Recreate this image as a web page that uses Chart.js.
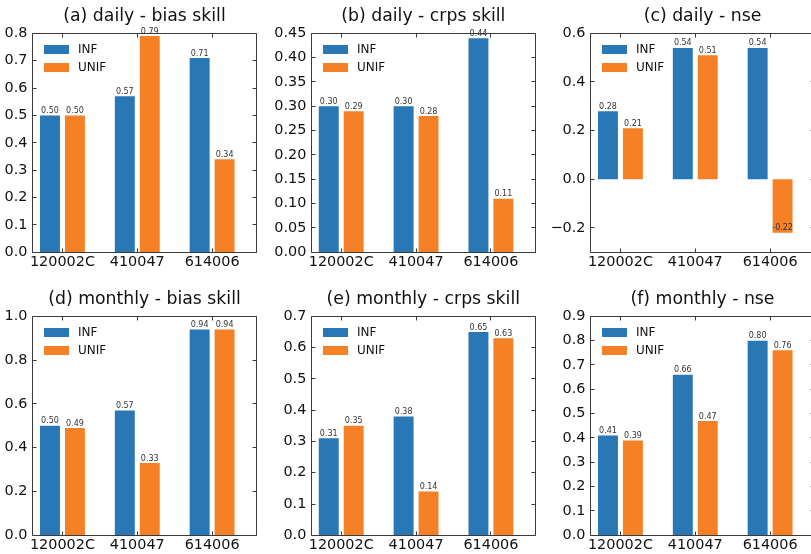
<!DOCTYPE html>
<html>
<head>
<meta charset="utf-8">
<script src="https://cdn.jsdelivr.net/npm/chart.js@4.4.1/dist/chart.umd.min.js"></script>
<style>
  html, body { margin: 0; padding: 0; background: #fff; overflow: hidden; width: 811px; height: 554px; }
  canvas { position: absolute; }
</style>
</head>
<body>
<script>
// Gauging stations and the two ensemble schemes
const categories = ['120002C', '410047', '614006'];
const seriesNames = ['INF', 'UNIF'];

// (a) daily - bias skill
const dailyBiasInf  = [0.50, 0.57, 0.71];
const dailyBiasUnif = [0.50, 0.79, 0.34];
const dailyBiasTicks = ['0.0', '0.1', '0.2', '0.3', '0.4', '0.5', '0.6', '0.7', '0.8'];

// (b) daily - crps skill
const dailyCrpsInf  = [0.30, 0.30, 0.44];
const dailyCrpsUnif = [0.29, 0.28, 0.11];
const dailyCrpsTicks = ['0.00', '0.05', '0.10', '0.15', '0.20', '0.25', '0.30', '0.35', '0.40', '0.45'];

// (c) daily - nse
const dailyNseInf  = [0.28, 0.54, 0.54];
const dailyNseUnif = [0.21, 0.51, -0.22];
const dailyNseTicks = ['−0.2', '0.0', '0.2', '0.4', '0.6'];

// (d) monthly - bias skill
const monthlyBiasInf  = [0.50, 0.57, 0.94];
const monthlyBiasUnif = [0.49, 0.33, 0.94];
const monthlyBiasTicks = ['0.0', '0.2', '0.4', '0.6', '0.8', '1.0'];

// (e) monthly - crps skill
const monthlyCrpsInf  = [0.31, 0.38, 0.65];
const monthlyCrpsUnif = [0.35, 0.14, 0.63];
const monthlyCrpsTicks = ['0.0', '0.1', '0.2', '0.3', '0.4', '0.5', '0.6', '0.7'];

// (f) monthly - nse
const monthlyNseInf  = [0.41, 0.66, 0.80];
const monthlyNseUnif = [0.39, 0.47, 0.76];
const monthlyNseTicks = ['0.0', '0.1', '0.2', '0.3', '0.4', '0.5', '0.6', '0.7', '0.8', '0.9'];

const COLORS = ['#2977b4', '#f58025'];
const FONT = 'DejaVu Sans';
Chart.defaults.font.family = FONT;

// Each panel: title, data, y range and its plot-area rectangle on the page
const panels = [
  { title: '(a) daily - bias skill',   inf: dailyBiasInf,   unif: dailyBiasUnif,   ticks: dailyBiasTicks,   y: [0, 0.8],    area: [32.5, 33.3, 256.5, 252.3] },
  { title: '(b) daily - crps skill',   inf: dailyCrpsInf,   unif: dailyCrpsUnif,   ticks: dailyCrpsTicks,   y: [0, 0.45],   area: [311.3, 33.3, 535.3, 252.3] },
  { title: '(c) daily - nse',          inf: dailyNseInf,    unif: dailyNseUnif,    ticks: dailyNseTicks,    y: [-0.3, 0.6], area: [590.5, 33.3, 814.5, 252.3] },
  { title: '(d) monthly - bias skill', inf: monthlyBiasInf, unif: monthlyBiasUnif, ticks: monthlyBiasTicks, y: [0, 1.0],    area: [32.5, 316.3, 256.5, 535.3] },
  { title: '(e) monthly - crps skill', inf: monthlyCrpsInf, unif: monthlyCrpsUnif, ticks: monthlyCrpsTicks, y: [0, 0.7],    area: [311.3, 316.3, 535.3, 535.3] },
  { title: '(f) monthly - nse',        inf: monthlyNseInf,  unif: monthlyNseUnif,  ticks: monthlyNseTicks,  y: [0, 0.9],    area: [590.5, 316.3, 814.5, 535.3] }
];

const parseTick = s => Number(s.replace('\u2212', '-'));

// Box with inward tick marks on all four sides
const framePlugin = {
  id: 'frame',
  afterDatasetsDraw(chart) {
    const { ctx, chartArea: a, scales: { x, y } } = chart;
    const L = Math.floor(a.left) + 0.5, R = Math.floor(a.right) + 0.5;
    const T = Math.floor(a.top) + 0.5, B = Math.floor(a.bottom) + 0.5;
    const len = 4;
    ctx.save();
    ctx.strokeStyle = '#3a3a3a';
    ctx.lineWidth = 1;
    ctx.beginPath();
    ctx.rect(L, T, R - L, B - T);
    y.ticks.forEach(t => {
      const py = Math.floor(y.getPixelForValue(t.value)) + 0.5;
      ctx.moveTo(L, py); ctx.lineTo(L + len, py);
      ctx.moveTo(R, py); ctx.lineTo(R - len, py);
    });
    x.ticks.forEach(t => {
      const px = Math.floor(x.getPixelForValue(t.value)) + 0.5;
      ctx.moveTo(px, B); ctx.lineTo(px, B - len);
      ctx.moveTo(px, T); ctx.lineTo(px, T + len);
    });
    ctx.stroke();
    ctx.restore();
  }
};

// Value printed at the end of every bar
const valueLabelPlugin = {
  id: 'valueLabels',
  afterDatasetsDraw(chart) {
    const { ctx } = chart;
    ctx.save();
    ctx.font = '8px "' + FONT + '"';
    ctx.fillStyle = '#333';
    ctx.textAlign = 'center';
    ctx.textBaseline = 'bottom';
    chart.data.datasets.forEach((ds, di) => {
      chart.getDatasetMeta(di).data.forEach((bar, i) => {
        ctx.fillText(ds.data[i].y.toFixed(2), bar.x, bar.y - 0.5);
      });
    });
    ctx.restore();
  }
};

// Legend drawn inside the upper-left corner of the plot area
const insideLegendPlugin = {
  id: 'insideLegend',
  afterDraw(chart) {
    const { ctx, chartArea: a } = chart;
    ctx.save();
    ctx.font = '12px "' + FONT + '"';
    ctx.textBaseline = 'middle';
    ctx.textAlign = 'left';
    chart.data.datasets.forEach((ds, i) => {
      const bx = Math.round(a.left + 11.5);
      const by = Math.round(a.top + 11.7 + i * 18);
      ctx.fillStyle = ds.backgroundColor;
      ctx.fillRect(bx, by, 25, 9);
      ctx.fillStyle = '#111';
      ctx.fillText(ds.label, bx + 34, by + 4.5);
    });
    ctx.restore();
  }
};

const TITLE_SIZE = 17.3, TICK_SIZE = 14.4;

panels.forEach(p => {
  const [l, t, r, b] = p.area;
  const cx = Math.floor(l) - 48, cy = Math.floor(t) - 33;
  const w = Math.ceil(r) + 14 - cx, h = Math.ceil(b) + 26 - cy;
  const yAxisW = l - cx, titleH = t - cy, padRight = cx + w - r, xAxisH = cy + h - b;
  const titleLine = TITLE_SIZE * 1.2;
  const titleTop = titleH - 16.5 - titleLine / 2;

  const canvas = document.createElement('canvas');
  canvas.width = w; canvas.height = h;
  canvas.style.left = cx + 'px'; canvas.style.top = cy + 'px';
  canvas.style.width = w + 'px'; canvas.style.height = h + 'px';
  document.body.appendChild(canvas);

  new Chart(canvas, {
    type: 'bar',
    data: {
      datasets: [
        { label: seriesNames[0], data: p.inf.map((v, i) => ({ x: i, y: v })), backgroundColor: COLORS[0] },
        { label: seriesNames[1], data: p.unif.map((v, i) => ({ x: i, y: v })), backgroundColor: COLORS[1] }
      ]
    },
    options: {
      responsive: false,
      animation: false,
      devicePixelRatio: 1,
      layout: { padding: { left: 0, top: 0, right: padRight, bottom: 0 } },
      datasets: { bar: { categoryPercentage: 2 / 3, barPercentage: 0.8, borderWidth: 0 } },
      plugins: {
        legend: { display: false },
        tooltip: { enabled: false },
        title: {
          display: true,
          text: p.title,
          fullSize: false,
          color: '#111',
          font: { size: TITLE_SIZE, weight: 'normal', family: FONT, lineHeight: 1.2 },
          padding: { top: titleTop, bottom: titleH - titleTop - titleLine }
        }
      },
      scales: {
        x: {
          type: 'linear',
          offset: false,
          bounds: 'data',
          min: -0.4,
          max: 2.593,
          grid: { display: false, drawTicks: false, offset: false },
          border: { display: false },
          ticks: {
            autoSkip: false,
            maxRotation: 0,
            padding: 1,
            color: '#111',
            font: { size: TICK_SIZE, family: FONT },
            callback: (v, i) => categories[i]
          },
          afterBuildTicks: s => { s.ticks = categories.map((c, i) => ({ value: i })); },
          afterFit: s => { s.height = xAxisH; }
        },
        y: {
          type: 'linear',
          min: p.y[0],
          max: p.y[1],
          grid: { display: false, drawTicks: false },
          border: { display: false },
          ticks: {
            autoSkip: false,
            padding: 5,
            color: '#111',
            font: { size: TICK_SIZE, family: FONT },
            callback: (v, i) => p.ticks[i]
          },
          afterBuildTicks: s => { s.ticks = p.ticks.map(tk => ({ value: parseTick(tk) })); },
          afterFit: s => { s.width = yAxisW; }
        }
      }
    },
    plugins: [framePlugin, valueLabelPlugin, insideLegendPlugin]
  });
});
</script>
</body>
</html>
